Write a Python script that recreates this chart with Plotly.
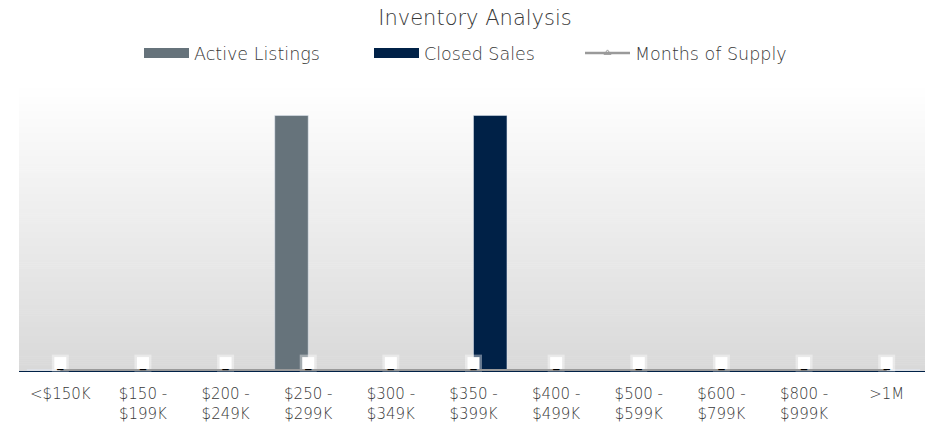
import plotly.graph_objects as go

categories = ["<$150K", "$150 -<br>$199K", "$200 -<br>$249K", "$250 -<br>$299K", "$300 -<br>$349K",
              "$350 -<br>$399K", "$400 -<br>$499K", "$500 -<br>$599K", "$600 -<br>$799K",
              "$800 -<br>$999K", ">1M"]
active_listings = [0, 0, 0, 1, 0, 0, 0, 0, 0, 0, 0]
closed_sales = [0, 0, 0, 0, 0, 1, 0, 0, 0, 0, 0]
months_of_supply = [0, 0, 0, 0, 0, 0, 0, 0, 0, 0, 0]
supply_labels = ["–"] * len(categories)

GRAY = "#66737b"
NAVY = "#002147"
LINE = "#9a9a9a"
FONT = "DejaVu Sans"
TXT = "#383838"
W, H = 933, 424
OFF = 8  # page offset of the figure

fig = go.Figure()

# gradient plot background (white at top to light gray at bottom)
n = 140
for i in range(n):
    t = i / (n - 1)
    v = round(255 - (255 - 217) * t)
    fig.add_shape(type="rect", xref="paper", yref="paper",
                  x0=0, x1=1, y0=1 - (i + 1) / n, y1=1 - i / n + 0.002,
                  fillcolor=f"rgb({v},{v},{v})", line_width=0, layer="below")

fig.add_trace(go.Bar(x=categories, y=active_listings, name="Active Listings",
                     marker_color=GRAY, showlegend=False))
fig.add_trace(go.Bar(x=categories, y=closed_sales, name="Closed Sales",
                     marker_color=NAVY, showlegend=False))

# label boxes (soft white glow)
lab_y = [v + 0.027 for v in months_of_supply]
fig.add_trace(go.Scatter(x=categories, y=lab_y, mode="markers",
                         marker=dict(symbol="square", size=17, color="rgba(255,255,255,0.4)",
                                     line_width=0),
                         showlegend=False, hoverinfo="skip", cliponaxis=False))
fig.add_trace(go.Scatter(x=categories, y=lab_y, mode="markers",
                         marker=dict(symbol="square", size=12, color="rgba(255,255,255,1)",
                                     line_width=0),
                         showlegend=False, hoverinfo="skip", cliponaxis=False))

fig.add_trace(go.Scatter(x=categories, y=months_of_supply, name="Months of Supply",
                         mode="lines+text", line=dict(color=LINE, width=1.8),
                         text=supply_labels, textposition="middle center",
                         textfont=dict(color="#000000", size=16, family=FONT),
                         showlegend=False, cliponaxis=False))

# legend entries (one legend per entry to match spacing)
fig.add_trace(go.Scatter(x=[None], y=[None], mode="lines", name="Active Listings",
                         line=dict(color=GRAY, width=11), legend="legend"))
fig.add_trace(go.Scatter(x=[None], y=[None], mode="lines", name="Closed Sales",
                         line=dict(color=NAVY, width=11), legend="legend2"))
fig.add_trace(go.Scatter(x=[None], y=[None], mode="lines+markers", name="Months of Supply",
                         line=dict(color=LINE, width=2.5),
                         marker=dict(symbol="triangle-up-open", size=6, color=LINE),
                         legend="legend3"))

def leg(xpx):
    return dict(orientation="h", x=(xpx - OFF) / W, xanchor="left", xref="container",
                y=1 - (53 - OFF) / H, yref="container", yanchor="middle",
                font=dict(family=FONT, size=17.5, color=TXT, weight=200), itemwidth=45,
                bgcolor="rgba(0,0,0,0)", borderwidth=0)

fig.update_layout(
    width=W, height=H,
    margin=dict(l=19 - OFF, r=5 + OFF, t=85 - OFF, b=53 + OFF, autoexpand=False),
    paper_bgcolor="white",
    plot_bgcolor="rgba(0,0,0,0)",
    title=dict(text="Inventory Analysis", x=(475 - OFF) / W, xanchor="center", xref="container",
               y=1 - (18 - OFF) / H, yref="container", yanchor="middle",
               font=dict(family=FONT, size=21, color=TXT, weight=200)),
    font=dict(family=FONT, color=TXT),
    legend=leg(147 - 8),
    legend2=leg(377 - 8),
    legend3=leg(588 - 8),
    barmode="group", bargap=0.19, bargroupgap=0,
    xaxis=dict(showline=True, linecolor=NAVY, linewidth=1, ticks="outside", ticklen=9,
               tickcolor="rgba(0,0,0,0)", automargin=False,
               layer="below traces", range=[-0.5, len(categories) - 0.5],
               tickfont=dict(family=FONT, size=15, color=TXT, weight=200), showgrid=False),
    yaxis=dict(range=[-0.004, 1.12], visible=False, showgrid=False, automargin=False),
    showlegend=True,
)

fig.write_html("out.html")
